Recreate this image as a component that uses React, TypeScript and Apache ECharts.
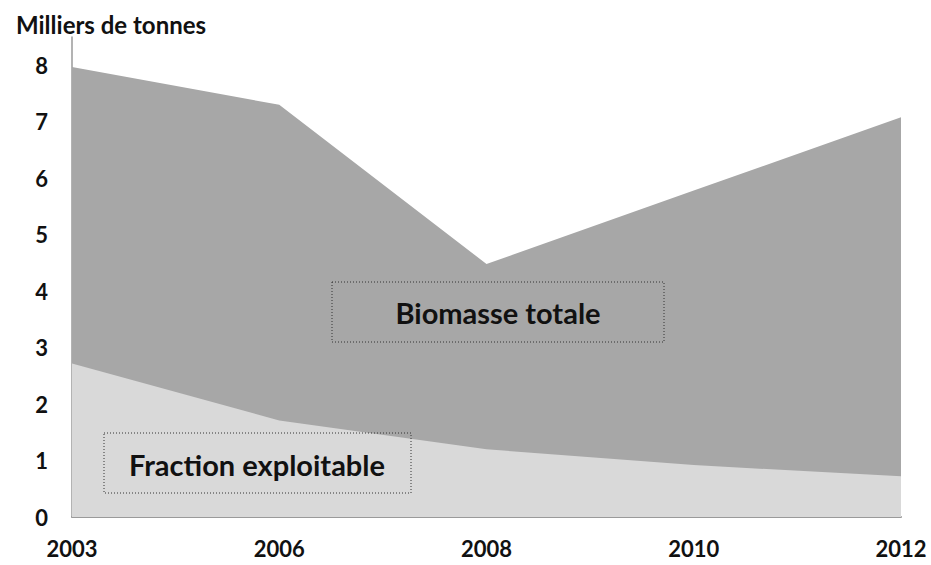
import React, { useEffect, useRef } from "react";
import * as echarts from "echarts";

const years = ["2003", "2006", "2008", "2010", "2012"];
const biomasseTotale = [7.97, 7.3, 4.48, 5.78, 7.08];
const fractionExploitable = [2.72, 1.71, 1.2, 0.92, 0.72];
const yTicks = [0, 1, 2, 3, 4, 5, 6, 7, 8];

const FONT = "Lato, 'Liberation Sans', sans-serif";

export default function App() {
  const ref = useRef<HTMLDivElement>(null);
  useEffect(() => {
    if (!ref.current) return;
    const chart = echarts.init(ref.current, null, { renderer: "svg" });
    chart.setOption({
      animation: false,
      backgroundColor: "#ffffff",
      grid: { left: 72, right: 30, top: 37, bottom: 48 },
      title: {
        text: "Milliers de tonnes",
        left: 11,
        top: 7,
        textStyle: { fontFamily: FONT, fontWeight: "bold", fontSize: 24, color: "#111" },
      },
      xAxis: {
        type: "category",
        data: years,
        boundaryGap: false,
        axisLine: { show: true, lineStyle: { color: "#9a9a9a", width: 2 } },
        axisTick: { show: false },
        axisLabel: { margin: 20, fontFamily: FONT, fontWeight: "bold", fontSize: 22, color: "#111" },
        splitLine: { show: false },
      },
      yAxis: {
        type: "value",
        min: 0,
        max: 8.5,
        interval: 0.5,
        axisLine: { show: true, lineStyle: { color: "#9a9a9a", width: 1.5 } },
        axisTick: { show: false },
        splitLine: { show: false },
        axisLabel: {
          margin: 24,
          fontFamily: FONT,
          fontWeight: "bold",
          fontSize: 22,
          color: "#111",
          formatter: (v: number) => (yTicks.includes(v) ? String(v) : ""),
        },
      },
      series: [
        {
          name: "Biomasse totale",
          type: "line",
          data: biomasseTotale,
          showSymbol: false,
          lineStyle: { width: 0 },
          areaStyle: { color: "#a7a7a7", opacity: 1 },
          z: 1,
        },
        {
          name: "Fraction exploitable",
          type: "line",
          data: fractionExploitable,
          showSymbol: false,
          lineStyle: { width: 0 },
          areaStyle: { color: "#d9d9d9", opacity: 1 },
          z: 2,
        },
      ],
      graphic: [
        {
          type: "rect",
          shape: { x: 332, y: 282, width: 332, height: 60 },
          style: { fill: "transparent", stroke: "#333", lineWidth: 1, lineDash: [1, 2] },
          z: 10,
        },
        {
          type: "text",
          x: 498,
          y: 312,
          style: {
            text: "Biomasse totale",
            fontFamily: FONT,
            fontWeight: "bold",
            fontSize: 29,
            fill: "#111",
            align: "center",
            verticalAlign: "middle",
          },
          z: 11,
        },
        {
          type: "rect",
          shape: { x: 104, y: 433, width: 307, height: 60 },
          style: { fill: "transparent", stroke: "#333", lineWidth: 1, lineDash: [1, 2] },
          z: 10,
        },
        {
          type: "text",
          x: 257,
          y: 464,
          style: {
            text: "Fraction exploitable",
            fontFamily: FONT,
            fontWeight: "bold",
            fontSize: 29,
            fill: "#111",
            align: "center",
            verticalAlign: "middle",
          },
          z: 11,
        },
      ],
    });
    return () => chart.dispose();
  }, []);
  return <div ref={ref} style={{ width: 931, height: 565, position: "absolute", left: 0, top: 0 }} />;
}
